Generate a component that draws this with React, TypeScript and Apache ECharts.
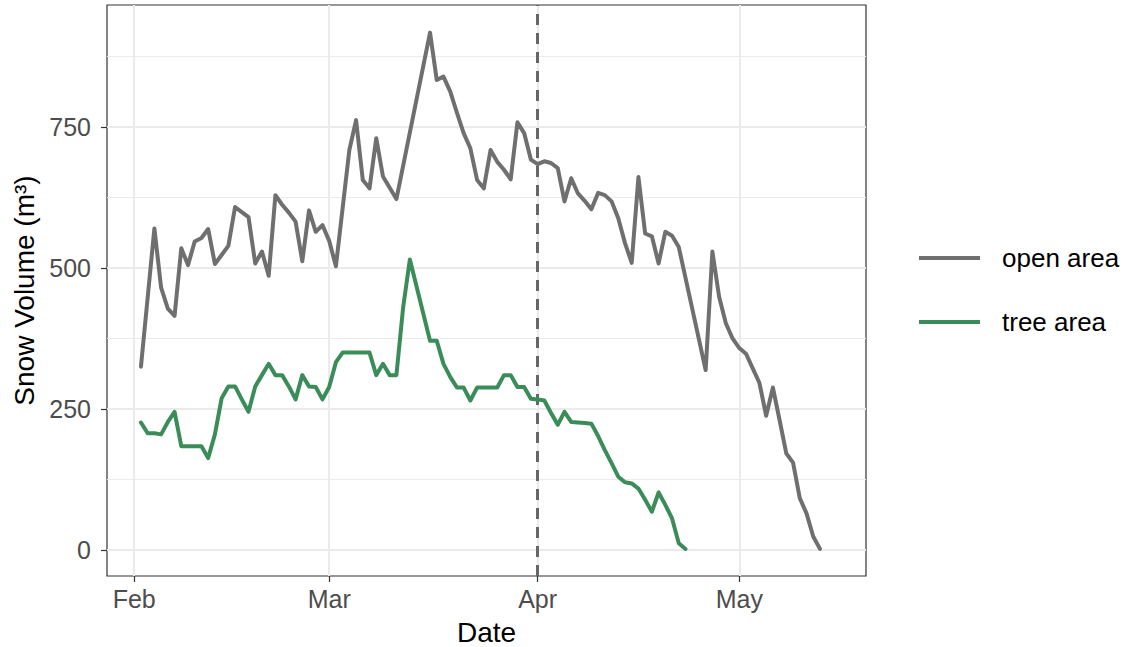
import React, { useEffect, useRef } from "react";
import * as echarts from "echarts";

// Days are counted from 1 February 2020 (a leap year).
const YEAR = 2020;
const MONTH_NAMES = ["Jan", "Feb", "Mar", "Apr", "May", "Jun", "Jul", "Aug", "Sep", "Oct", "Nov", "Dec"];

const openDays = [
  1, 3, 4, 5, 6, 7, 8, 9, 10, 11, 12, 13, 14, 15, 16, 17, 18, 19, 20, 21, 22, 23, 24, 25, 26, 27, 28, 29, 30,
  32, 33, 34, 35, 36, 37, 39, 44, 45, 46, 47, 48, 49, 50, 51, 52, 53, 54, 55, 56, 57, 58, 59, 60, 61, 62, 63,
  64, 65, 66, 67, 68, 69, 70, 71, 72, 73, 74, 75, 76, 77, 78, 79, 80, 81, 85, 86, 87, 88, 89, 90, 91, 92, 93,
  94, 95, 96, 97, 98, 99, 100, 101, 102,
];
const openVolume = [
  325, 570, 465, 428, 415, 535, 505, 547, 553, 569, 507, 523, 539, 608, 599, 590, 508, 529, 486, 629, 612, 598,
  582, 512, 602, 564, 576, 548, 503, 709, 762, 656, 641, 730, 662, 622, 917, 833, 839, 813, 775, 739, 712, 656,
  641, 709, 688, 674, 657, 758, 739, 692, 684, 689, 686, 677, 618, 659, 632, 619, 604, 633, 629, 618, 588, 544,
  509, 661, 561, 556, 508, 564, 557, 537, 319, 529, 449, 402, 375, 358, 348, 322, 296, 238, 288, 230, 171, 155,
  92, 65, 24, 2,
];

const treeDays = [
  1, 2, 3, 4, 5, 6, 7, 8, 9, 10, 11, 12, 13, 14, 15, 16, 17, 18, 19, 20, 21, 22, 23, 24, 25, 26, 27, 28, 29, 30,
  31, 32, 33, 34, 35, 36, 37, 38, 39, 40, 41, 44, 45, 46, 47, 48, 49, 50, 51, 52, 53, 54, 55, 56, 57, 58, 59,
  60, 61, 62, 63, 64, 65, 66, 67, 68, 69, 70, 71, 72, 73, 74, 75, 76, 77, 78, 79, 80, 81, 82,
];
const treeVolume = [
  226, 207, 207, 205, 227, 245, 184, 184, 184, 184, 163, 205, 269, 290, 290, 267, 245, 290, 310, 330, 310, 310,
  290, 267, 310, 290, 289, 267, 289, 333, 350, 350, 350, 350, 350, 310, 330, 310, 310, 430, 515, 371, 371, 330,
  307, 288, 288, 265, 288, 288, 288, 288, 310, 310, 289, 289, 268, 267, 265, 243, 222, 245, 227, 226, 225, 224,
  202, 177, 154, 130, 120, 118, 109, 89, 68, 102, 80, 56, 12, 2,
];

const monthBreaks = ["2020-02-01", "2020-03-01", "2020-04-01", "2020-05-01"];
const referenceDate = "2020-04-01";
const yMajorBreaks = [0, 250, 500, 750];
const yMinorBreaks = [125, 375, 625, 875];

const DAY_MS = 86400000;
const FEB_FIRST = Date.UTC(YEAR, 1, 1);
const toTime = (iso: string) => Date.parse(iso + "T00:00:00Z");
const dayToTime = (d: number) => FEB_FIRST + d * DAY_MS;

const FONT = "'Liberation Sans', Arial, Helvetica, sans-serif";
const OPEN_COLOR = "#6f6f6f";
const TREE_COLOR = "#3a8d58";
const GRID_COLOR = "#ebebeb";

export default function App() {
  const ref = useRef<HTMLDivElement>(null);

  useEffect(() => {
    if (!ref.current) return;
    const chart = echarts.init(ref.current, null, { renderer: "svg" });
    const monthTimes = monthBreaks.map(toTime);

    chart.setOption({
      animation: false,
      backgroundColor: "#ffffff",
      textStyle: { fontFamily: FONT },
      grid: {
        left: 107,
        right: 260,
        top: 5,
        bottom: 71,
        show: true,
        borderColor: "#333333",
        borderWidth: 1.2,
        backgroundColor: "transparent",
        containLabel: false,
        outerBoundsMode: "none",
      },
      legend: {
        orient: "vertical",
        left: 914,
        top: 240,
        icon: "rect",
        itemWidth: 61,
        itemHeight: 4,
        itemGap: 38,
        selectedMode: false,
        textStyle: { fontSize: 26, color: "#000000", fontFamily: FONT, padding: [0, 0, 0, 17] },
        data: ["open area", "tree area"],
      },
      xAxis: {
        // timestamps in ms (UTC); labels show the month of each break
        type: "value",
        min: dayToTime(-4.05),
        max: dayToTime(108.85),
        name: "Date",
        nameLocation: "middle",
        nameGap: 42,
        nameTextStyle: { fontSize: 28, color: "#000000", fontFamily: FONT },
        axisLine: { show: false, onZero: false },
        axisTick: {
          show: true,
          length: 6,
          customValues: monthTimes,
          lineStyle: { color: "#333333", width: 1.2 },
        },
        axisLabel: {
          customValues: monthTimes,
          margin: 10,
          fontSize: 25,
          color: "#4d4d4d",
          fontFamily: FONT,
          formatter: (v: number) => MONTH_NAMES[new Date(v).getUTCMonth()],
        },
        splitLine: { show: true, lineStyle: { color: GRID_COLOR, width: 2 } },
      },
      yAxis: [
        {
          type: "value",
          min: -46,
          max: 966,
          name: "Snow Volume (m³)",
          nameLocation: "middle",
          nameGap: 62,
          nameTextStyle: { fontSize: 28, color: "#000000", fontFamily: FONT },
          axisLine: { show: false, onZero: false },
          axisTick: {
            show: true,
            length: 6,
            customValues: yMajorBreaks,
            lineStyle: { color: "#333333", width: 1.2 },
          },
          axisLabel: {
            customValues: yMajorBreaks,
            margin: 16,
            fontSize: 25,
            color: "#4d4d4d",
            fontFamily: FONT,
          },
          splitLine: { show: true, lineStyle: { color: GRID_COLOR, width: 2 } },
        },
        {
          type: "value",
          min: -46,
          max: 966,
          position: "left",
          axisLine: { show: false, onZero: false },
          axisTick: { show: false, customValues: yMinorBreaks },
          axisLabel: { show: false, customValues: yMinorBreaks },
          splitLine: { show: true, lineStyle: { color: GRID_COLOR, width: 1 } },
        },
      ],
      series: [
        {
          name: "open area",
          type: "line",
          yAxisIndex: 0,
          data: openDays.map((d, i) => [dayToTime(d), openVolume[i]]),
          showSymbol: false,
          symbol: "none",
          itemStyle: { color: OPEN_COLOR },
          lineStyle: { color: OPEN_COLOR, width: 4, join: "round", cap: "round" },
          z: 3,
          markLine: {
            silent: true,
            symbol: ["none", "none"],
            label: { show: false },
            lineStyle: { color: "#666666", width: 3, type: [11, 8] },
            data: [{ xAxis: toTime(referenceDate) }],
            z: 2,
          },
        },
        {
          name: "tree area",
          type: "line",
          yAxisIndex: 0,
          data: treeDays.map((d, i) => [dayToTime(d), treeVolume[i]]),
          showSymbol: false,
          symbol: "none",
          itemStyle: { color: TREE_COLOR },
          lineStyle: { color: TREE_COLOR, width: 4, join: "round", cap: "round" },
          z: 3,
        },
      ],
    });

    return () => chart.dispose();
  }, []);

  return (
    <div
      ref={ref}
      style={{ position: "fixed", left: 0, top: 0, width: 1126, height: 647, background: "#ffffff" }}
    />
  );
}
